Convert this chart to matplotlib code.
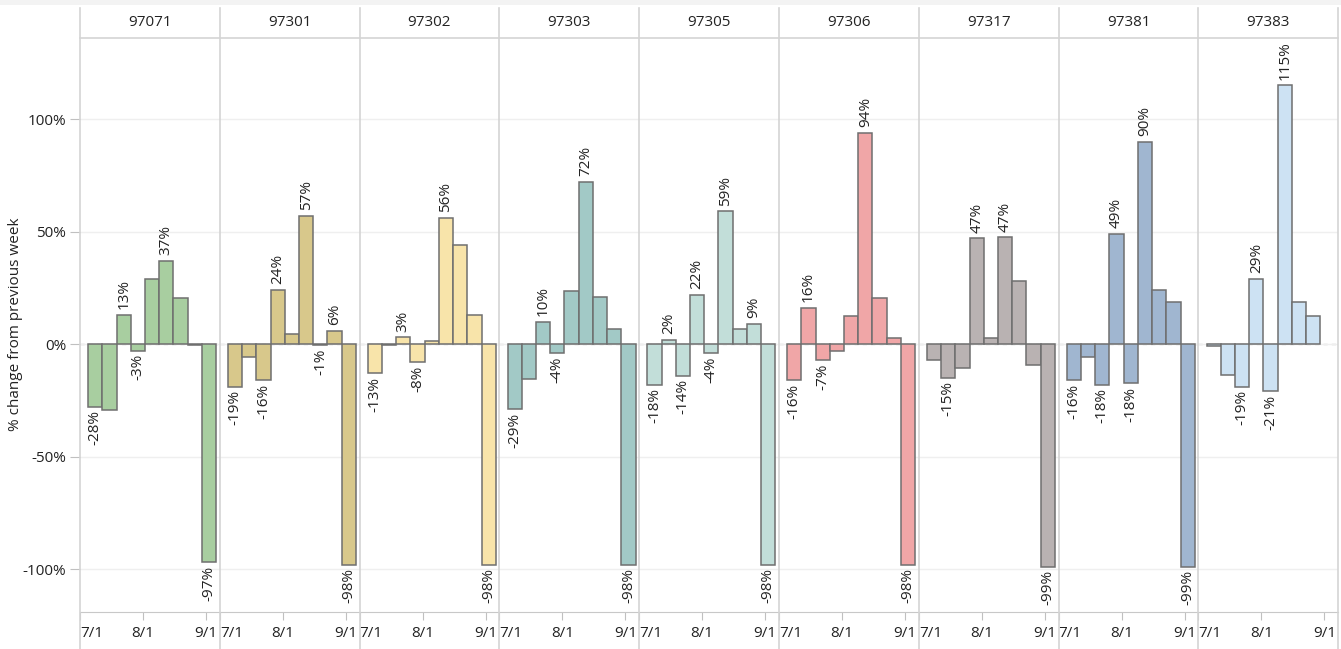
import numpy as np
import pandas as pd
import matplotlib
matplotlib.use("Agg")
import matplotlib.pyplot as plt
from matplotlib.lines import Line2D
from matplotlib.patches import Rectangle

plt.rcParams['font.family'] = ['Open Sans', 'DejaVu Sans']

zips = ['97071', '97301', '97302', '97303', '97305', '97306', '97317', '97381', '97383']
colors = ['#a8cea0', '#d8c88b', '#f8e4aa', '#a2c9c6', '#c2ded9', '#f0a6a7', '#b9b2b2', '#a0b6d0', '#cde2f3']

# start of each weekly bar
weeks = ['2020-07-05', '2020-07-12', '2020-07-19', '2020-07-26', '2020-08-02',
         '2020-08-09', '2020-08-16', '2020-08-23', '2020-08-30']

# % change from previous week, one list per zip
changes = [
    [-28, -29.5, 13, -3, 29, 37, 20.5, -0.5, -97],
    [-19, -5.7, -16, 24, 4.6, 57, -0.6, 6, -98],
    [-13, -0.5, 3, -8, 1.3, 56, 44, 13, -98],
    [-29, -15.7, 10, -4, 23.6, 72, 21, 6.6, -98],
    [-18, 2, -14, 22, -4, 59, 6.5, 9, -98],
    [-16, 16, -7, -3.1, 12.5, 94, 20.5, 2.6, -98],
    [-7.2, -15, -10.5, 47, 2.6, 47.4, 28.2, -9.2, -99],
    [-16, -5.7, -18, 49, -17.5, 90, 24.2, 18.8, -99],
    [-1.1, -13.8, -19, 29, -21, 115, 18.8, 12.4],
]
# which bars carry a value label
labeled = [
    [0, 2, 3, 5, 8],
    [0, 2, 3, 5, 6, 7, 8],
    [0, 2, 3, 5, 8],
    [0, 2, 3, 5, 8],
    [0, 1, 2, 3, 4, 5, 7, 8],
    [0, 1, 2, 5, 8],
    [1, 3, 5, 8],
    [0, 2, 3, 4, 5, 8],
    [2, 3, 4, 5],
]

tick_dates = ['2020-07-01', '2020-08-01', '2020-09-01']
tick_labels = ['7/1', '8/1', '9/1']
y_ticks = [-100, -50, 0, 50, 100]
y_labels = ['-100%', '-50%', '0%', '50%', '100%']

origin = pd.Timestamp('2020-07-01')
week_x = [(pd.Timestamp(w) - origin).days for w in weeks]
tick_x = [(pd.Timestamp(d) - origin).days for d in tick_dates]

W, H = 1341, 649
fig = plt.figure(figsize=(W / 100, H / 100), dpi=100)

left0 = 80
pw = 139.8
top, bottom, head_top = 38, 612, 8
sep_col = '#d4d4d4'
txt_col = '#222222'

# light band at the very top
fig.add_artist(Rectangle((0, 1 - 4.5 / H), 1, 4.5 / H, transform=fig.transFigure,
                         color='#f3f3f3', lw=0))

for i, z in enumerate(zips):
    lx = left0 + i * pw
    ax = fig.add_axes([lx / W, 1 - bottom / H, pw / W, (bottom - top) / H])
    vals = changes[i]
    xs = week_x[:len(vals)]
    ax.axhline(0, color='#c4c4c4', lw=1, ls=(0, (3, 3)), zorder=1)
    ax.bar(xs, vals, width=7, align='edge', color=colors[i],
           edgecolor='#6f6f6f', linewidth=1.1, zorder=2)
    for j in labeled[i]:
        v = vals[j]
        ax.annotate(f"{v:.0f}%", xy=(xs[j] + 3.5, v),
                    xytext=(0, 4 if v > 0 else -2.5), textcoords='offset points',
                    rotation=90, ha='center', va='bottom' if v > 0 else 'top',
                    fontsize=11, color=txt_col)
    ax.set_xlim(0, 68.8)
    ax.set_ylim(-119.1, 136)
    ax.set_yticks(y_ticks)
    ax.grid(axis='y', color='#efefef', lw=1, zorder=0)
    ax.set_xticks(tick_x)
    ax.set_xticklabels(tick_labels)
    for lab in ax.get_xticklabels()[:1]:
        lab.set_horizontalalignment('left')
    ax.tick_params(axis='x', length=6, color='#c0c0c0', labelsize=11,
                   labelcolor=txt_col, pad=4)
    if i == 0:
        ax.set_yticklabels(y_labels)
        ax.tick_params(axis='y', length=7, color='#c0c0c0', labelsize=11,
                       labelcolor=txt_col, pad=3)
    else:
        ax.tick_params(axis='y', left=False, labelleft=False)
    for s in ['top', 'right', 'left']:
        ax.spines[s].set_visible(False)
    ax.spines['bottom'].set_color('#c8c8c8')

    # header strip
    hx = fig.add_axes([lx / W, 1 - top / H, pw / W, (top - head_top) / H])
    hx.set_axis_off()
    hx.text(0.5, 0.5, z, ha='center', va='center', fontsize=11, color=txt_col,
            transform=hx.transAxes)

fig.text(16 / W, 1 - 324 / H, '% change from previous week', rotation=90,
         ha='center', va='center', fontsize=11, color=txt_col)

# header bottom line and panel separators
fig.add_artist(Line2D([left0 / W, (left0 + 9 * pw) / W], [1 - top / H] * 2,
                      transform=fig.transFigure, color=sep_col, lw=1.2))
for i in range(10):
    x = (left0 + i * pw) / W
    fig.add_artist(Line2D([x, x], [0, 1 - head_top / H], transform=fig.transFigure,
                          color=sep_col, lw=1.2))

fig.savefig('out.png', dpi=100)
